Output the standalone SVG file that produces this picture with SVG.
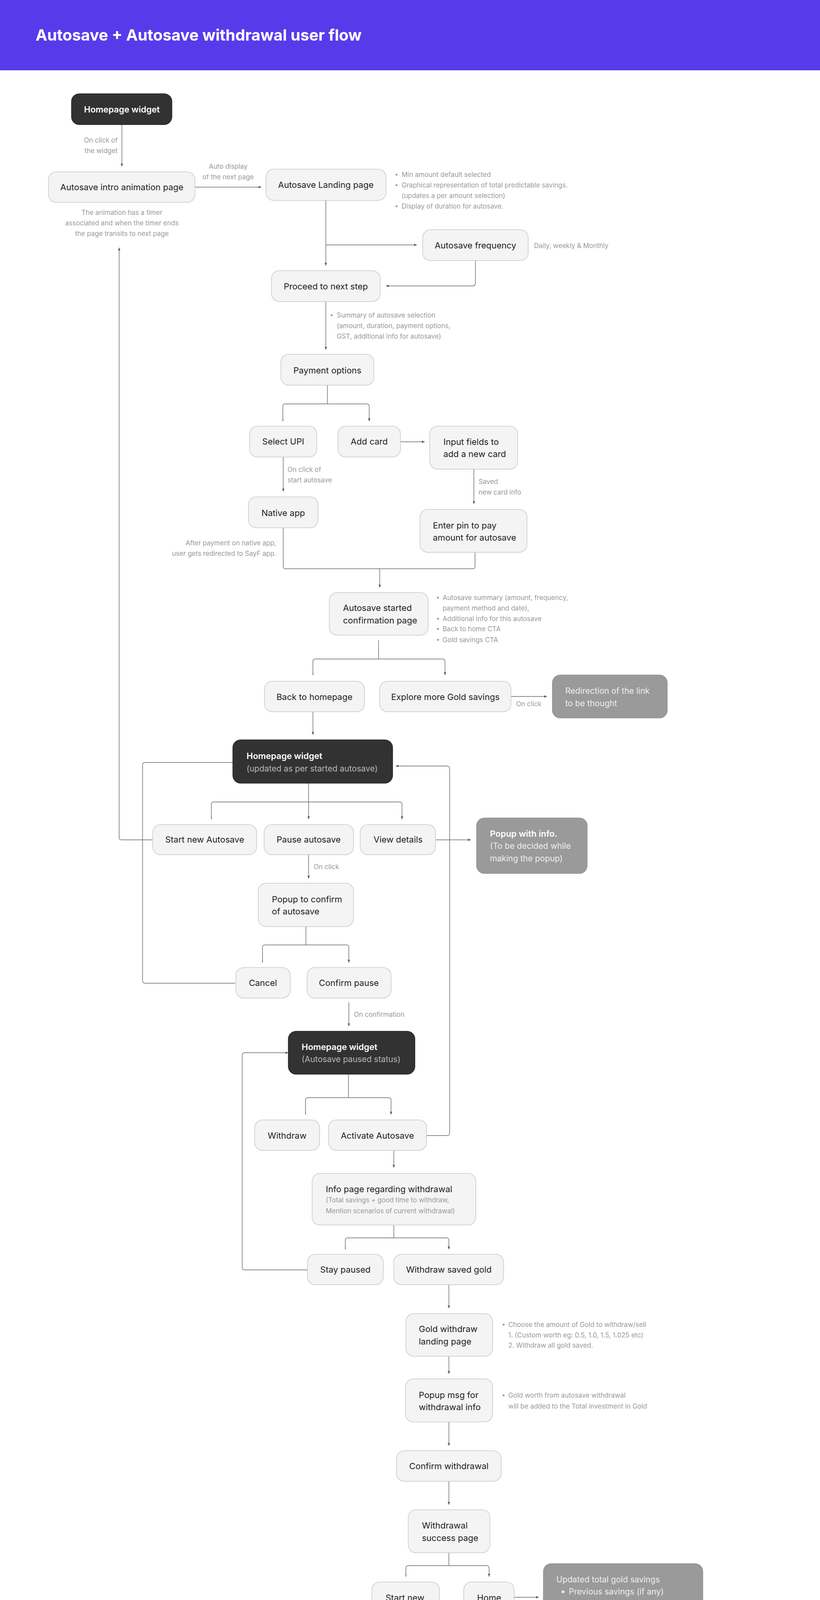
<svg xmlns="http://www.w3.org/2000/svg" width="2099" height="4351" viewBox="0 0 2099 4351">
<style>
.n{fill:#f4f4f4;stroke:#c8c8c8;stroke-width:1.5}
.d{fill:#323232;stroke:#222;stroke-width:1.5}
.g{fill:#9a9a9a;stroke:#8f8f8f;stroke-width:1.5}
text{font-family:Inter,"Noto Sans","Liberation Sans",sans-serif}
.t{font-size:22px;fill:#222}
.tc{font-size:22px;fill:#222;text-anchor:middle}
.w{font-size:22px;fill:#fff;font-weight:600}
.wl{font-size:21px;fill:#b5b5b5}
.wg{font-size:21px;fill:#eee}
.a{font-size:17px;fill:#999}
.ar{font-size:17px;fill:#999;text-anchor:end}
.am{font-size:17px;fill:#999;text-anchor:middle}
.c path{fill:none;stroke:#666;stroke-width:1.4}
.bul{fill:#999}
</style>
<defs><marker id="h" markerWidth="8" markerHeight="8" refX="7" refY="4" orient="auto" markerUnits="userSpaceOnUse"><path d="M0,1 L7,4 L0,7 z" fill="#555"/></marker></defs>
<rect x="0" y="0" width="2099" height="180" fill="#573bea"/>
<text x="91" y="104" font-size="40" font-weight="700" fill="#fff" font-family="Inter,'Liberation Sans',sans-serif">Autosave + Autosave withdrawal user flow</text>

<g class="c">
<path d="M312 319 V426" marker-end="url(#h)"/>
<path d="M499 479 H669" marker-end="url(#h)"/>
<path d="M834 513 V680" marker-end="url(#h)"/>
<path d="M834 627 H1067" marker-end="url(#h)"/>
<path d="M1217 667 V724 q0 8 -8 8 H988" marker-end="url(#h)"/>
<path d="M834 772 V895" marker-end="url(#h)"/>
<path d="M838 986 V1034 M730 1034 H939 q6 0 6 6 V1078 M730 1034 q-6 0 -6 6 V1078" />
<path d="M724 1072 V1078 M945 1072 V1078" marker-end="url(#h)"/>
<path d="M1025 1131 H1087" marker-end="url(#h)"/>
<path d="M725 1170 V1258" marker-end="url(#h)"/>
<path d="M1213 1201 V1290" marker-end="url(#h)"/>
<path d="M725 1351 V1450 q0 6 6 6 H1210 q6 0 6 -6 V1414"/>
<path d="M972 1456 V1504" marker-end="url(#h)"/>
<path d="M969 1639 V1687 M807 1687 H1133 q6 0 6 6 V1728 M807 1687 q-6 0 -6 6 V1728"/>
<path d="M801 1722 V1728 M1139 1722 V1728" marker-end="url(#h)"/>
<path d="M1308 1783 H1400" marker-end="url(#h)"/>
<path d="M801 1822 V1881" marker-end="url(#h)"/>
<path d="M790 2005 V2097" marker-end="url(#h)"/>
<path d="M547 2053 H1023 q6 0 6 6 V2097 M547 2053 q-6 0 -6 6 V2097"/>
<path d="M541 2091 V2097 M1029 2091 V2097" marker-end="url(#h)"/>
<path d="M391 2150 H311 q-6 0 -6 -6 V634" marker-end="url(#h)"/>
<path d="M602 2517 H372 q-7 0 -7 -7 V1959 q0 -7 7 -7 H684" marker-end="url(#h)"/>
<path d="M1115 2150 H1205" marker-end="url(#h)"/>
<path d="M1092 2907 H1144 q7 0 7 -7 V1968 q0 -7 -7 -7 H1013" marker-end="url(#h)"/>
<path d="M790 2188 V2249" marker-end="url(#h)"/>
<path d="M783 2372 V2419 M678 2419 H887 q6 0 6 6 V2464 M678 2419 q-6 0 -6 6 V2464"/>
<path d="M672 2458 V2464 M893 2458 V2464" marker-end="url(#h)"/>
<path d="M893 2566 V2627" marker-end="url(#h)"/>
<path d="M892 2750 V2810 M788 2810 H995 q6 0 6 6 V2853 M788 2810 q-6 0 -6 6 V2853"/>
<path d="M782 2847 V2853 M1001 2847 V2853" marker-end="url(#h)"/>
<path d="M787 3251 H627 q-7 0 -7 -7 V2702 q0 -7 7 -7 H738" marker-end="url(#h)"/>
<path d="M1008 2945 V2989" marker-end="url(#h)"/>
<path d="M1008 3136 V3169 M890 3169 H1143 q6 0 6 6 V3198 M890 3169 q-6 0 -6 6 V3198"/>
<path d="M884 3192 V3198 M1149 3192 V3198" marker-end="url(#h)"/>
<path d="M1149 3289 V3349" marker-end="url(#h)"/>
<path d="M1149 3472 V3517" marker-end="url(#h)"/>
<path d="M1149 3640 V3701" marker-end="url(#h)"/>
<path d="M1149 3792 V3852" marker-end="url(#h)"/>
<path d="M1149 3975 V4008 M1045 4008 H1246 q6 0 6 6 V4036 M1045 4008 q-6 0 -6 6 V4036"/>
<path d="M1039 4030 V4036 M1252 4030 V4036" marker-end="url(#h)"/>
<path d="M1316 4089 H1379" marker-end="url(#h)"/>
</g>

<text class="ar" x="301" y="365">On click of</text>
<text class="ar" x="301" y="392">the widget</text>
<text class="am" x="584" y="432">Auto display</text>
<text class="am" x="584" y="459">of the next page</text>
<text class="am" x="312" y="550">The animation has a timer</text>
<text class="am" x="312" y="577">associated and when the timer ends</text>
<text class="am" x="312" y="604">the page transits to next page</text>
<g class="a"><circle class="bul" cx="1015" cy="447" r="2.5"/><circle class="bul" cx="1015" cy="474" r="2.5"/><circle class="bul" cx="1015" cy="528" r="2.5"/>
<text class="a" x="1028" y="453">Min amount default selected</text>
<text class="a" x="1028" y="480">Graphical representation of total predictable savings.</text>
<text class="a" x="1028" y="507">(updates a per amount selection)</text>
<text class="a" x="1028" y="534">Display of duration for autosave.</text></g>
<text class="a" x="1367" y="635">Daily, weekly &amp; Monthly</text>
<circle class="bul" cx="849" cy="807" r="2.5"/>
<text class="a" x="862" y="813">Summary of autosave selection</text>
<text class="a" x="862" y="840">(amount, duration, payment options,</text>
<text class="a" x="862" y="867">GST, additional info for autosave)</text>
<text class="a" x="736" y="1208">On click of</text>
<text class="a" x="736" y="1235">start autosave</text>
<text class="a" x="1225" y="1239">Saved</text>
<text class="a" x="1225" y="1266">new card info</text>
<text class="ar" x="707" y="1396">After payment on native app,</text>
<text class="ar" x="707" y="1423">user gets redirected to SayF app.</text>
<circle class="bul" cx="1121" cy="1530" r="2.5"/><circle class="bul" cx="1121" cy="1584" r="2.5"/><circle class="bul" cx="1121" cy="1610" r="2.5"/><circle class="bul" cx="1121" cy="1638" r="2.5"/>
<text class="a" x="1133" y="1536">Autosave summary (amount, frequency,</text>
<text class="a" x="1133" y="1563">payment method and date),</text>
<text class="a" x="1133" y="1590">Additional info for this autosave</text>
<text class="a" x="1133" y="1616">Back to home CTA</text>
<text class="a" x="1133" y="1644">Gold savings CTA</text>
<text class="a" x="1321" y="1808">On click</text>
<text class="a" x="803" y="2225">On click</text>
<text class="a" x="906" y="2603">On confirmation</text>
<circle class="bul" cx="1289" cy="3391" r="2.5"/>
<text class="a" x="1301" y="3397">Choose the amount of Gold to withdraw/sell</text>
<text class="a" x="1301" y="3424">1. (Custom worth eg: 0.5, 1.0, 1.5, 1.025 etc)</text>
<text class="a" x="1301" y="3450">2. Withdraw all gold saved.</text>
<circle class="bul" cx="1289" cy="3572" r="2.5"/>
<text class="a" x="1301" y="3578">Gold worth from autosave withdrawal</text>
<text class="a" x="1301" y="3606">will be added to the Total investment in Gold</text>

<g id="homepage-widget"><rect class="d" x="183" y="240" width="257" height="79" rx="20"/><text x="312" y="288" class="w" text-anchor="middle">Homepage widget</text></g>
<g id="intro"><rect class="n" x="124" y="440" width="375" height="78" rx="20"/><text class="tc" x="312" y="487">Autosave intro animation page</text></g>
<g id="landing"><rect class="n" x="681" y="433" width="307" height="80" rx="20"/><text class="tc" x="834" y="481">Autosave Landing page</text></g>
<g id="frequency"><rect class="n" x="1082" y="588" width="270" height="79" rx="20"/><text class="tc" x="1217" y="636">Autosave frequency</text></g>
<g id="proceed"><rect class="n" x="695" y="693" width="278" height="79" rx="20"/><text class="tc" x="834" y="741">Proceed to next step</text></g>
<g id="payment"><rect class="n" x="719" y="907" width="238" height="79" rx="20"/><text class="tc" x="838" y="956">Payment options</text></g>
<g id="upi"><rect class="n" x="639" y="1091" width="172" height="79" rx="20"/><text class="tc" x="725" y="1138">Select UPI</text></g>
<g id="addcard"><rect class="n" x="865" y="1091" width="160" height="79" rx="20"/><text class="tc" x="945" y="1138">Add card</text></g>
<g id="inputfields"><rect class="n" x="1100" y="1091" width="225" height="110" rx="20"/><text class="t" x="1135" y="1139">Input fields to</text><text class="t" x="1135" y="1170">add a new card</text></g>
<g id="nativeapp"><rect class="n" x="636" y="1272" width="178" height="79" rx="20"/><text class="tc" x="725" y="1321">Native app</text></g>
<g id="enterpin"><rect class="n" x="1075" y="1304" width="274" height="110" rx="20"/><text class="t" x="1108" y="1353">Enter pin to pay</text><text class="t" x="1108" y="1384">amount for autosave</text></g>
<g id="started"><rect class="n" x="843" y="1517" width="253" height="109" rx="20"/><text class="t" x="878" y="1564">Autosave started</text><text class="t" x="878" y="1596">confirmation page</text></g>
<g id="backhome"><rect class="n" x="677" y="1744" width="256" height="78" rx="20"/><text class="tc" x="805" y="1792">Back to homepage</text></g>
<g id="explore"><rect class="n" x="972" y="1744" width="336" height="78" rx="20"/><text class="tc" x="1140" y="1792">Explore more Gold savings</text></g>
<g id="redirection"><rect class="g" x="1414" y="1728" width="294" height="110" rx="20"/><text class="wg" x="1447" y="1776">Redirection of the link</text><text class="wg" x="1447" y="1808">to be thought</text></g>
<g id="homepage-widget-2"><rect class="d" x="596" y="1894" width="409" height="111" rx="20"/><text class="w" x="631" y="1943">Homepage widget</text><text class="wl" x="631" y="1975">(updated as per started autosave)</text></g>
<g id="startnew"><rect class="n" x="391" y="2111" width="266" height="77" rx="20"/><text class="tc" x="524" y="2157">Start new Autosave</text></g>
<g id="pause"><rect class="n" x="676" y="2111" width="229" height="77" rx="20"/><text class="tc" x="790" y="2157">Pause autosave</text></g>
<g id="viewdetails"><rect class="n" x="922" y="2111" width="193" height="77" rx="20"/><text class="tc" x="1019" y="2157">View details</text></g>
<g id="popupinfo"><rect class="g" x="1220" y="2094" width="283" height="142" rx="20"/><text class="w" x="1254" y="2142" font-weight="500">Popup with info.</text><text class="wg" x="1254" y="2173" fill="#e0e0e0">(To be decided while</text><text class="wg" x="1254" y="2205">making the popup)</text></g>
<g id="popupconfirm"><rect class="n" x="661" y="2261" width="244" height="111" rx="20"/><text class="t" x="696" y="2310">Popup to confirm</text><text class="t" x="696" y="2341">of autosave</text></g>
<g id="cancel"><rect class="n" x="604" y="2477" width="139" height="78" rx="20"/><text class="tc" x="673" y="2524">Cancel</text></g>
<g id="confirmpause"><rect class="n" x="786" y="2477" width="215" height="78" rx="20"/><text class="tc" x="893" y="2524">Confirm pause</text></g>
<g id="homepage-widget-3"><rect class="d" x="738" y="2640" width="324" height="110" rx="20"/><text class="w" x="772" y="2688">Homepage widget</text><text class="wl" x="772" y="2719">(Autosave paused status)</text></g>
<g id="withdraw"><rect class="n" x="652" y="2867" width="166" height="78" rx="20"/><text class="tc" x="735" y="2915">Withdraw</text></g>
<g id="activate"><rect class="n" x="841" y="2867" width="251" height="78" rx="20"/><text class="tc" x="966" y="2915">Activate Autosave</text></g>
<g id="infopage"><rect class="n" x="799" y="3004" width="419" height="132" rx="20"/><text class="t" x="834" y="3052">Info page regarding withdrawal</text><text class="a" x="834" y="3078" font-size="18">(Total savings + good time to withdraw,</text><text class="a" x="834" y="3106" font-size="18">Mention scenarios of current withdrawal)</text></g>
<g id="staypaused"><rect class="n" x="787" y="3211" width="194" height="78" rx="20"/><text class="tc" x="884" y="3258">Stay paused</text></g>
<g id="withdrawsaved"><rect class="n" x="1008" y="3211" width="281" height="78" rx="20"/><text class="tc" x="1149" y="3258">Withdraw saved gold</text></g>
<g id="goldlanding"><rect class="n" x="1039" y="3363" width="222" height="109" rx="20"/><text class="t" x="1072" y="3410">Gold withdraw</text><text class="t" x="1072" y="3442">landing page</text></g>
<g id="popupmsg"><rect class="n" x="1038" y="3530" width="223" height="110" rx="20"/><text class="t" x="1072" y="3579">Popup msg for</text><text class="t" x="1072" y="3610">withdrawal info</text></g>
<g id="confirmwithdrawal"><rect class="n" x="1015" y="3714" width="268" height="78" rx="20"/><text class="tc" x="1149" y="3761">Confirm withdrawal</text></g>
<g id="success"><rect class="n" x="1045" y="3865" width="209" height="110" rx="20"/><text class="t" x="1080" y="3913">Withdrawal</text><text class="t" x="1080" y="3945">success page</text></g>
<g id="startnew2"><rect class="n" x="952" y="4050" width="173" height="110" rx="20"/><text class="t" x="987" y="4098">Start new</text><text class="t" x="987" y="4129">autosave</text></g>
<g id="home"><rect class="n" x="1187" y="4050" width="129" height="78" rx="20"/><text class="tc" x="1252" y="4098">Home</text></g>
<g id="updated"><rect class="g" x="1391" y="4003" width="408" height="173" rx="20"/><text class="wg" x="1424" y="4051">Updated total gold savings</text><circle cx="1441" cy="4075" r="3.5" fill="#eee"/><text class="wg" x="1456" y="4082">Previous savings (if any)</text><text class="wg" x="1458" y="4114">+</text><circle cx="1441" cy="4138" r="3.5" fill="#eee"/><text class="wg" x="1456" y="4145">Gold withdrawn from autosave</text></g>
</svg>
